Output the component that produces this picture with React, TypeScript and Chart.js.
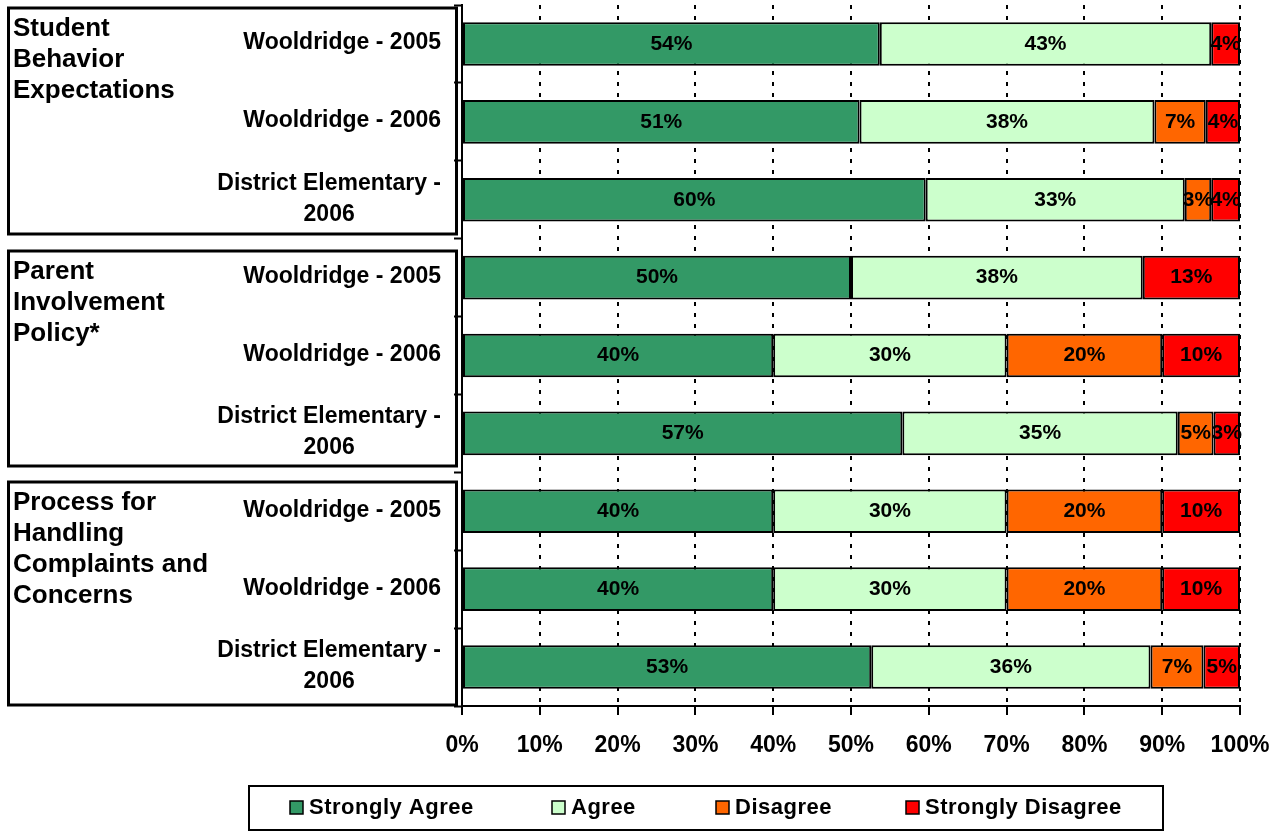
import React, { useEffect, useRef } from "react";
import { Chart, registerables } from "chart.js";

Chart.register(...registerables);

const groupTitles: string[][] = [
  ["Student", "Behavior", "Expectations"],
  ["Parent", "Involvement", "Policy*"],
  ["Process for", "Handling", "Complaints and", "Concerns"],
];

const categoryLabels: string[][] = [
  ["Wooldridge - 2005"],
  ["Wooldridge - 2006"],
  ["District Elementary -", "2006"],
  ["Wooldridge - 2005"],
  ["Wooldridge - 2006"],
  ["District Elementary -", "2006"],
  ["Wooldridge - 2005"],
  ["Wooldridge - 2006"],
  ["District Elementary -", "2006"],
];

const seriesNames = ["Strongly Agree", "Agree", "Disagree", "Strongly Disagree"];
const seriesColors = ["#339966", "#CCFFCC", "#FF6600", "#FF0000"];

const stronglyAgree = [53.7, 51.1, 59.6, 50, 40, 56.6, 40, 40, 52.6];
const agree = [42.6, 37.9, 33.3, 37.5, 30, 35.4, 30, 30, 35.9];
const disagree = [0, 6.6, 3.4, 0, 20, 4.6, 20, 20, 6.8];
const stronglyDisagree = [3.7, 4.4, 3.7, 12.5, 10, 3.4, 10, 10, 4.7];

const xTicks = [0, 10, 20, 30, 40, 50, 60, 70, 80, 90, 100];

const FONT = '"Liberation Sans", Arial, sans-serif';

const annotationPlugin = {
  id: "annotations",
  afterDatasetsDraw(chart: any) {
    const ctx = chart.ctx;
    ctx.save();
    ctx.font = `bold 21px ${FONT}`;
    ctx.fillStyle = "#000";
    ctx.textAlign = "center";
    ctx.textBaseline = "middle";
    chart.data.datasets.forEach((ds: any, di: number) => {
      const meta = chart.getDatasetMeta(di);
      meta.data.forEach((el: any, i: number) => {
        const v = ds.data[i];
        if (!v) return;
        const p = el.getProps(["x", "base", "y"], true);
        ctx.fillText(Math.round(v) + "%", (p.x + p.base) / 2, p.y);
      });
    });
    ctx.restore();
  },
  afterDraw(chart: any) {
    const ctx = chart.ctx;
    const yScale = chart.scales.y;
    ctx.save();
    // category labels
    ctx.font = `bold 23px ${FONT}`;
    ctx.fillStyle = "#000";
    ctx.textBaseline = "middle";
    ctx.textAlign = "center";
    const rightEdge = 441;
    categoryLabels.forEach((lines, i) => {
      const cy = yScale.getPixelForValue(i);
      const maxW = Math.max(...lines.map((l) => ctx.measureText(l).width));
      const cx = rightEdge - maxW / 2;
      const lh = 31;
      const startY = cy - ((lines.length - 1) * lh) / 2 - 1;
      lines.forEach((l, k) => ctx.fillText(l, cx, startY + k * lh));
    });
    // group boxes
    const boxes = [
      [8, 234],
      [251, 466],
      [482, 705],
    ];
    ctx.lineWidth = 3;
    ctx.strokeStyle = "#000";
    boxes.forEach(([t, b]) => {
      ctx.strokeRect(8.5, t, 448, b - t);
    });
    ctx.font = `bold 26px ${FONT}`;
    ctx.textAlign = "left";
    ctx.textBaseline = "alphabetic";
    groupTitles.forEach((lines, g) => {
      const top = boxes[g][0];
      lines.forEach((l, k) => ctx.fillText(l, 13, top + 28 + k * 31));
    });
    // legend
    ctx.lineWidth = 2;
    ctx.strokeRect(249, 786, 914, 44);
    const itemX = [290, 552, 716, 906];
    ctx.font = `bold 22px ${FONT}`;
    (ctx as any).letterSpacing = "0.5px";
    ctx.textBaseline = "middle";
    chart.data.datasets.forEach((ds: any, di: number) => {
      const x = itemX[di];
      ctx.fillStyle = ds.backgroundColor;
      ctx.fillRect(x, 801, 13, 13);
      ctx.lineWidth = 1.5;
      ctx.strokeRect(x, 801, 13, 13);
      ctx.fillStyle = "#000";
      ctx.fillText(ds.label, x + 19, 808);
    });
    ctx.restore();
  },
};

export default function App() {
  const canvasRef = useRef<HTMLCanvasElement | null>(null);

  useEffect(() => {
    if (!canvasRef.current) return;
    const series = [stronglyAgree, agree, disagree, stronglyDisagree];
    const chart = new Chart(canvasRef.current, {
      type: "bar",
      data: {
        labels: categoryLabels.map((l) => l.join(" ")),
        datasets: series.map((data, i) => ({
          label: seriesNames[i],
          data,
          backgroundColor: seriesColors[i],
          borderColor: "#000",
          borderWidth: 2,
          borderSkipped: false,
          barPercentage: 0.56,
          categoryPercentage: 1,
        })),
      },
      options: {
        indexAxis: "y",
        animation: false,
        responsive: false,
        devicePixelRatio: 1,
        layout: { padding: { left: 462, right: 41, top: 5, bottom: 0 } },
        plugins: {
          legend: { display: false },
          tooltip: { enabled: false },
        },
        scales: {
          x: {
            stacked: true,
            min: 0,
            max: 100,
            afterBuildTicks: (scale: any) => {
              scale.ticks = xTicks.map((v) => ({ value: v }));
            },
            afterFit: (scale: any) => {
              scale.height = 125;
              scale.paddingLeft = 0;
              scale.paddingRight = 0;
            },
            ticks: {
              color: "#000",
              padding: 17,
              font: { family: FONT, size: 23, weight: "bold" },
              callback: (v: any) => v + "%",
              maxRotation: 0,
            },
            grid: {
              color: "#000",
              lineWidth: 2,
              tickLength: 9,
              tickWidth: 2,
              tickColor: "#000",
              tickBorderDash: [],
            },
            border: { display: true, color: "#000", width: 2, dash: [4, 7] },
          },
          y: {
            stacked: true,
            afterFit: (scale: any) => {
              scale.width = 0;
            },
            ticks: { display: false },
            grid: {
              offset: true,
              drawOnChartArea: false,
              color: "#000",
              tickLength: 8,
              tickWidth: 2,
              tickColor: "#000",
            },
            border: { display: true, color: "#000", width: 2 },
          },
        },
      },
      plugins: [annotationPlugin],
    } as any);
    return () => chart.destroy();
  }, []);

  return (
    <div style={{ position: "fixed", left: 0, top: 0, width: 1281, height: 831, background: "#fff" }}>
      <canvas ref={canvasRef} width={1281} height={831} style={{ display: "block" }} />
    </div>
  );
}
